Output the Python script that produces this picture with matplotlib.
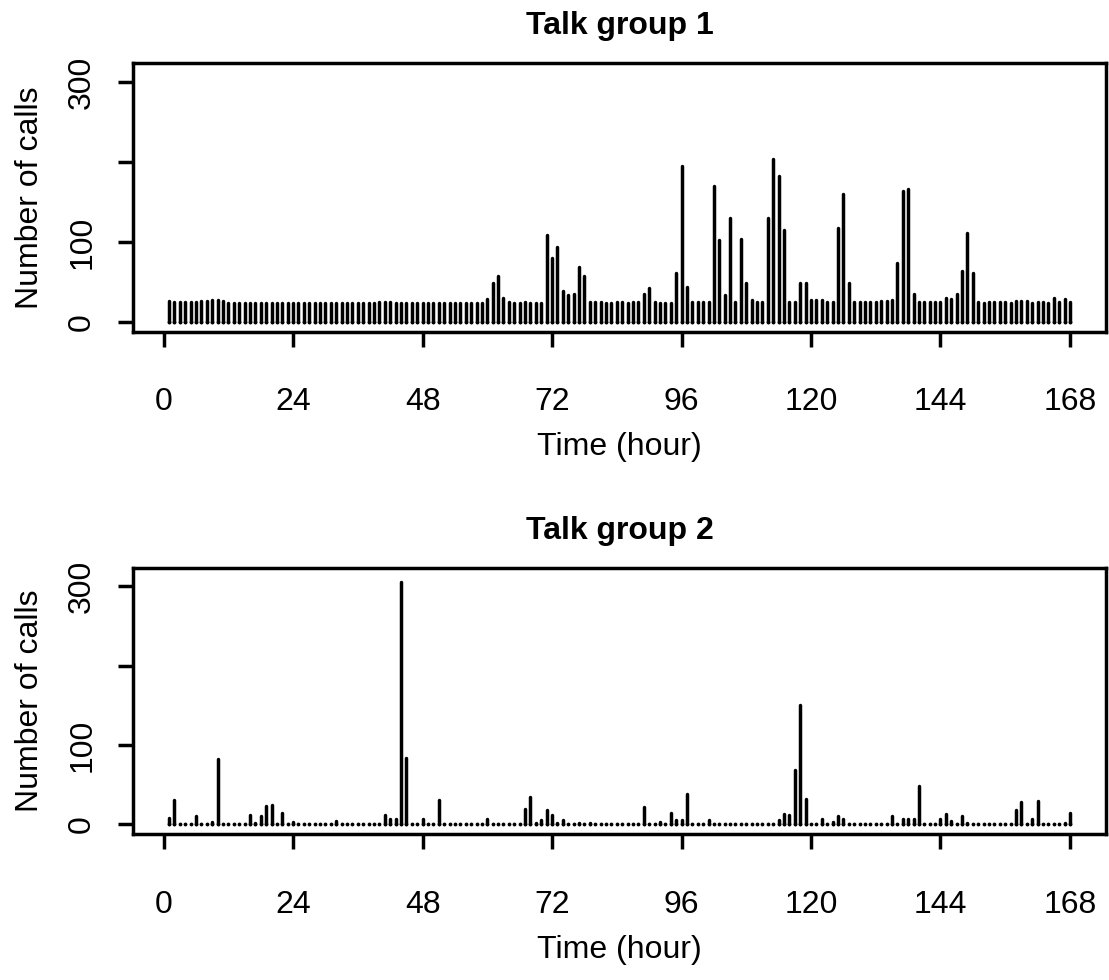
import numpy as np
import matplotlib
matplotlib.use("Agg")
import matplotlib.pyplot as plt

plt.rcParams["font.family"] = ["Liberation Sans", "DejaVu Sans"]

hours = np.arange(1, 169)

# hourly call counts, talk group 1
calls_tg1 = [
    26, 25, 25, 25, 25, 25, 26, 26, 27, 27, 26, 23,
    24, 24, 24, 23, 24, 24, 24, 24, 23, 24, 24, 24,
    24, 24, 24, 24, 24, 24, 23, 24, 24, 24, 24, 23,
    24, 24, 24, 25, 25, 25, 24, 24, 24, 23, 23, 23,
    23, 23, 23, 23, 23, 23, 23, 23, 23, 23, 23, 28,
    48, 57, 30, 25, 24, 24, 25, 24, 24, 24, 108, 80,
    94, 38, 34, 35, 69, 57, 25, 25, 25, 24, 24, 25,
    25, 24, 25, 25, 35, 42, 25, 24, 23, 24, 61, 195,
    44, 25, 25, 25, 25, 170, 102, 33, 130, 25, 104, 48,
    27, 25, 25, 130, 204, 183, 115, 25, 25, 48, 49, 27,
    27, 27, 25, 25, 117, 160, 49, 25, 25, 25, 25, 25,
    26, 26, 27, 74, 164, 166, 35, 25, 25, 25, 25, 25,
    30, 29, 35, 64, 111, 61, 25, 24, 25, 25, 25, 25,
    24, 26, 26, 26, 24, 25, 25, 24, 30, 25, 28, 25,
]

# hourly call counts, talk group 2
calls_tg2 = [
    8, 31, 0, 0, 0, 10, 0, 0, 3, 82, 0, 0,
    0, 0, 0, 12, 2, 10, 23, 25, 0, 15, 0, 3,
    0, 0, 0, 0, 0, 0, 0, 4, 0, 0, 0, 0,
    0, 0, 0, 0, 12, 7, 7, 306, 84, 0, 0, 7,
    0, 0, 31, 0, 0, 0, 0, 0, 0, 0, 0, 7,
    0, 0, 0, 0, 0, 0, 19, 34, 2, 6, 18, 12,
    2, 6, 0, 0, 2, 0, 2, 0, 0, 0, 0, 0,
    0, 0, 0, 0, 22, 0, 0, 3, 0, 15, 5, 5,
    38, 0, 0, 0, 5, 0, 0, 0, 0, 0, 0, 0,
    0, 0, 0, 0, 0, 5, 13, 12, 68, 150, 32, 0,
    0, 7, 0, 3, 10, 7, 0, 0, 0, 0, 0, 0,
    0, 0, 11, 0, 7, 7, 7, 48, 0, 0, 0, 7,
    13, 4, 0, 10, 2, 0, 0, 0, 0, 0, 0, 0,
    0, 18, 28, 0, 7, 29, 0, 0, 0, 0, 2, 15,
]

titles = ["Talk group 1", "Talk group 2"]
xticks = [0, 24, 48, 72, 96, 120, 144, 168]
yticks = [0, 100, 200, 300]
yticklabels = ["0", "100", "", "300"]

fig = plt.figure(figsize=(11.09, 9.8), dpi=100)
ax1 = fig.add_axes([0.1199, 0.6615, 0.8774, 0.2739])
ax2 = fig.add_axes([0.1199, 0.1487, 0.8774, 0.2720])

lw = 2.5
fs = 23

for ax, calls, title in zip([ax1, ax2], [calls_tg1, calls_tg2], titles):
    ax.vlines(hours, 0, calls, colors="black", linewidth=lw, capstyle="round")
    # zero counts still show as a round dot, like a zero-length stroke
    ax.plot(hours, np.zeros(len(hours)), "o", color="black", ms=lw * 1.1, mew=0)
    ax.set_xlim(-5.68, 174.68)
    ax.set_ylim(-12.4, 323.4)
    ax.set_xticks(xticks)
    ax.set_yticks(yticks)
    ax.set_yticklabels(yticklabels, rotation=90, va="center")
    ax.tick_params(axis="both", direction="out", length=10.8, width=lw,
                   labelsize=fs)
    ax.tick_params(axis="x", pad=29)
    ax.tick_params(axis="y", pad=15)
    for sp in ax.spines.values():
        sp.set_linewidth(lw)
    ax.set_title(title, fontsize=fs, fontweight="bold", pad=21)
    ax.set_xlabel("Time (hour)", fontsize=fs, labelpad=11)
    ax.set_ylabel("Number of calls", fontsize=fs, labelpad=16)

fig.savefig("out.png", dpi=100)
